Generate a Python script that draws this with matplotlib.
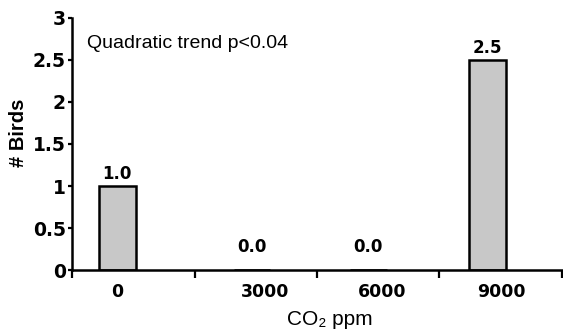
import numpy as np
import matplotlib

matplotlib.use("Agg")
import matplotlib.pyplot as plt

plt.rcParams.update({
    "font.family": ["Liberation Sans", "DejaVu Sans"],
    "font.size": 12,
})

# ---- data ------------------------------------------------------------------ #
CO2_LEVELS = ["0", "3000", "6000", "9000"]
BIRDS = [1.0, 0.0, 0.0, 2.5]
NOTE = "Quadratic trend p<0.04"

BAR_FILL = "#c8c8c8"
INK = "black"
DIGITS = dict(family="DejaVu Sans", fontweight="bold")

# the source figure draws its bars and labels slightly off-centre in each slot
BAR_SHIFT = np.array([0.37, 0.47, 0.42, 0.39])
LABEL_SHIFT = np.array([0.37, 0.58, 0.53, 0.51])

slots = np.arange(len(CO2_LEVELS))

fig = plt.figure(figsize=(5.63, 3.31), dpi=100)
ax = fig.add_axes([0.128, 0.184, 0.87, 0.762])

ax.bar(slots + BAR_SHIFT, BIRDS, width=0.3, color=BAR_FILL,
       edgecolor=INK, linewidth=1.8, zorder=2)
for x, v in zip(slots + BAR_SHIFT, BIRDS):
    y = v + 0.04 if v > 0 else 0.17
    ax.text(x, y, f"{v:.1f}", ha="center", va="bottom", fontsize=12, **DIGITS)

ax.text(0.12, 2.69, NOTE, ha="left", va="center", fontsize=14)

ax.set_xlim(0, len(CO2_LEVELS))
ax.set_ylim(0, 3)
ax.set_yticks(np.arange(0, 3.01, 0.5))
ax.set_yticklabels(["0", "0.5", "1", "1.5", "2", "2.5", "3"], fontsize=13.5, **DIGITS)
ax.set_xticks(np.arange(len(CO2_LEVELS) + 1))
ax.set_xticklabels([])
ax.set_xticks(slots + LABEL_SHIFT, minor=True)
ax.set_xticklabels(CO2_LEVELS, minor=True, fontsize=12.5, **DIGITS)
ax.tick_params(axis="x", which="major", direction="out", length=5.5, width=1.6)
ax.tick_params(axis="x", which="minor", length=0, pad=9)
ax.tick_params(axis="y", direction="out", length=3, width=1.6, pad=1.5)

for side in ("top", "right"):
    ax.spines[side].set_visible(False)
for side in ("left", "bottom"):
    ax.spines[side].set_linewidth(1.8)

ax.set_ylabel("# Birds", fontweight="bold", fontsize=14.5)
ax.yaxis.set_label_coords(-0.09, (270 - 133) / 252)
ax.set_xlabel("CO\u2082 ppm", fontsize=15)
ax.xaxis.set_label_coords((330 - 72) / 490, -0.16)

fig.savefig("out.png", dpi=100)
